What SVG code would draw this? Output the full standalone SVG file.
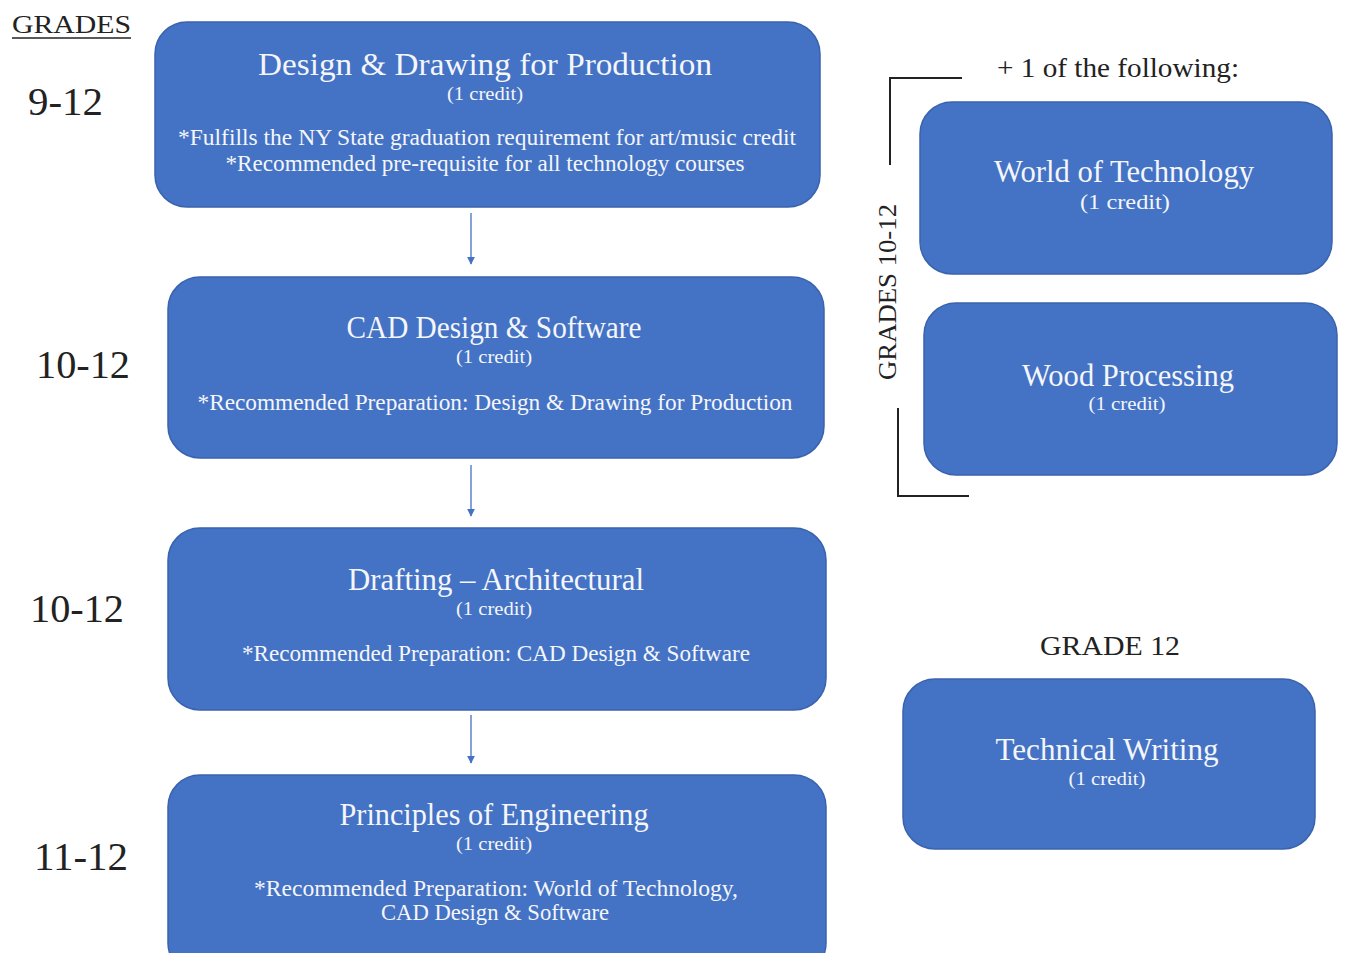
<svg xmlns="http://www.w3.org/2000/svg" width="1345" height="953" viewBox="0 0 1345 953">
<defs>
<style>
.box{fill:#4472C4;stroke:#3A63AD;stroke-width:1.5}
.t{font-family:"Liberation Serif",serif;fill:#F4F6FA;text-anchor:middle}
.ti{font-size:31px}
.cr{font-size:19px}
.nt{font-size:24px}
.lb{font-family:"Liberation Serif",serif;fill:#222;}
.conn{stroke:#4472C4;stroke-width:1.3;fill:none}
.br{stroke:#222;stroke-width:2;fill:none}
</style>
<marker id="ah" viewBox="0 0 10 10" refX="9" refY="5" markerWidth="8" markerHeight="8" markerUnits="userSpaceOnUse" orient="auto">
<path d="M0,0 L10,5 L0,10 z" fill="#4472C4"/>
</marker>
</defs>
<rect width="1345" height="953" fill="#fff"/>

<g id="labels">
<text class="lb" x="12" y="33" font-size="26" textLength="119" lengthAdjust="spacingAndGlyphs">GRADES</text>
<line x1="12" y1="38" x2="131" y2="38" stroke="#222" stroke-width="1.5"/>
<text class="lb" x="28" y="115" font-size="40" textLength="75" lengthAdjust="spacingAndGlyphs">9-12</text>
<text class="lb" x="36" y="378" font-size="40" textLength="94" lengthAdjust="spacingAndGlyphs">10-12</text>
<text class="lb" x="30" y="622" font-size="40" textLength="94" lengthAdjust="spacingAndGlyphs">10-12</text>
<text class="lb" x="34" y="870" font-size="40" textLength="94" lengthAdjust="spacingAndGlyphs">11-12</text>
<text class="lb" x="997" y="77" font-size="28" textLength="242" lengthAdjust="spacingAndGlyphs">+ 1 of the following:</text>
<text class="lb" x="1110" y="655" font-size="28" text-anchor="middle" textLength="140" lengthAdjust="spacingAndGlyphs">GRADE 12</text>
<text class="lb" transform="translate(896,292) rotate(-90)" font-size="26" text-anchor="middle" textLength="176" lengthAdjust="spacingAndGlyphs">GRADES 10-12</text>
</g>

<g id="bracket">
<path class="br" d="M962,78 H890 V165"/>
<path class="br" d="M898,408 V496 H969"/>
</g>

<g id="connectors">
<line class="conn" x1="471" y1="213" x2="471" y2="264" marker-end="url(#ah)"/>
<line class="conn" x1="471" y1="465" x2="471" y2="516" marker-end="url(#ah)"/>
<line class="conn" x1="471" y1="715" x2="471" y2="763" marker-end="url(#ah)"/>
</g>

<g id="n1">
<rect class="box" x="155" y="22" width="665" height="185" rx="32"/>
<text class="t ti" x="485" y="75" textLength="454" lengthAdjust="spacingAndGlyphs">Design &amp; Drawing for Production</text>
<text class="t cr" x="485" y="100" textLength="76" lengthAdjust="spacingAndGlyphs">(1 credit)</text>
<text class="t nt" x="487" y="145" textLength="618" lengthAdjust="spacingAndGlyphs">*Fulfills the NY State graduation requirement for art/music credit</text>
<text class="t nt" x="485" y="171" textLength="519" lengthAdjust="spacingAndGlyphs">*Recommended pre-requisite for all technology courses</text>
</g>

<g id="n2">
<rect class="box" x="168" y="277" width="656" height="181" rx="32"/>
<text class="t ti" x="494" y="338" textLength="295" lengthAdjust="spacingAndGlyphs">CAD Design &amp; Software</text>
<text class="t cr" x="494" y="363" textLength="76" lengthAdjust="spacingAndGlyphs">(1 credit)</text>
<text class="t nt" x="495" y="410" textLength="595" lengthAdjust="spacingAndGlyphs">*Recommended Preparation: Design &amp; Drawing for Production</text>
</g>

<g id="n3">
<rect class="box" x="168" y="528" width="658" height="182" rx="32"/>
<text class="t ti" x="496" y="590" textLength="296" lengthAdjust="spacingAndGlyphs">Drafting – Architectural</text>
<text class="t cr" x="494" y="615" textLength="76" lengthAdjust="spacingAndGlyphs">(1 credit)</text>
<text class="t nt" x="496" y="661" textLength="508" lengthAdjust="spacingAndGlyphs">*Recommended Preparation: CAD Design &amp; Software</text>
</g>

<g id="n4">
<rect class="box" x="168" y="775" width="658" height="200" rx="32"/>
<text class="t ti" x="494" y="825" textLength="309" lengthAdjust="spacingAndGlyphs">Principles of Engineering</text>
<text class="t cr" x="494" y="850" textLength="76" lengthAdjust="spacingAndGlyphs">(1 credit)</text>
<text class="t nt" x="496" y="896" textLength="484" lengthAdjust="spacingAndGlyphs">*Recommended Preparation: World of Technology,</text>
<text class="t nt" x="495" y="920" textLength="228" lengthAdjust="spacingAndGlyphs">CAD Design &amp; Software</text>
</g>

<g id="n5">
<rect class="box" x="920" y="102" width="412" height="172" rx="32"/>
<text class="t ti" x="1124" y="182" textLength="260" lengthAdjust="spacingAndGlyphs">World of Technology</text>
<text class="t" x="1125" y="209" font-size="20" textLength="90" lengthAdjust="spacingAndGlyphs">(1 credit)</text>
</g>

<g id="n6">
<rect class="box" x="924" y="303" width="413" height="172" rx="32"/>
<text class="t ti" x="1128" y="386" textLength="212" lengthAdjust="spacingAndGlyphs">Wood Processing</text>
<text class="t cr" x="1127" y="410" textLength="77" lengthAdjust="spacingAndGlyphs">(1 credit)</text>
</g>

<g id="n7">
<rect class="box" x="903" y="679" width="412" height="170" rx="32"/>
<text class="t ti" x="1107" y="760" textLength="223" lengthAdjust="spacingAndGlyphs">Technical Writing</text>
<text class="t cr" x="1107" y="785" textLength="77" lengthAdjust="spacingAndGlyphs">(1 credit)</text>
</g>
</svg>
